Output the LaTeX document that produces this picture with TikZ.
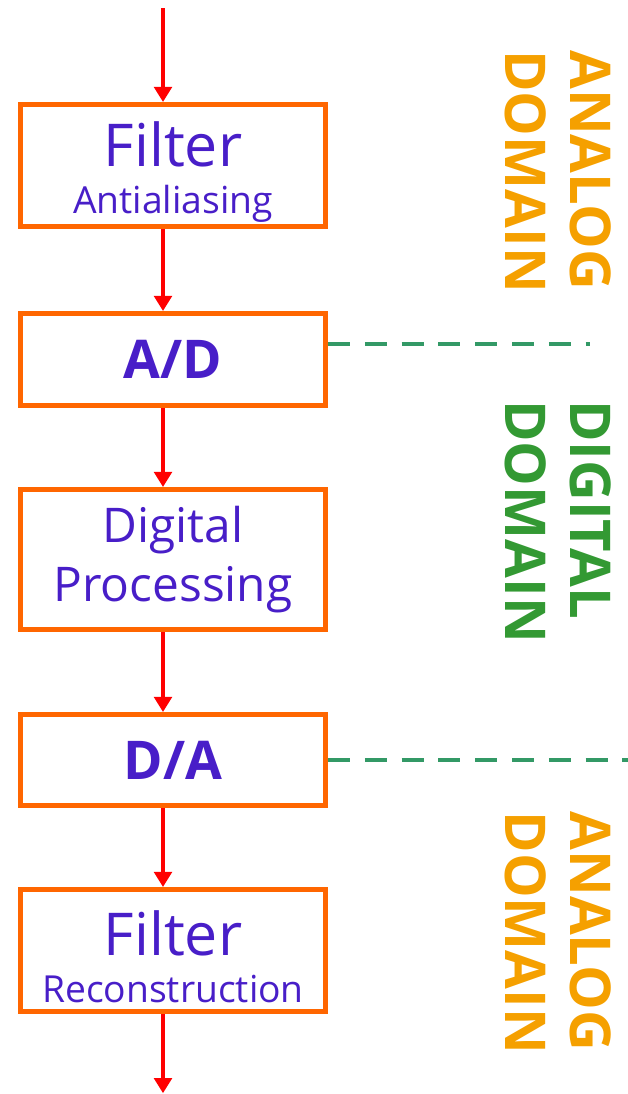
\documentclass[tikz,border=0pt]{standalone}
\usepackage{fontspec}
\setmainfont{Open Sans}
\usetikzlibrary{arrows.meta}

\definecolor{boxorange}{RGB}{255,102,0}
\definecolor{labelpurple}{RGB}{72,30,200}
\definecolor{analogorange}{RGB}{245,160,0}
\definecolor{digitalgreen}{RGB}{51,153,51}
\definecolor{dashgreen}{RGB}{51,153,102}

\tikzset{
  block/.style={draw=boxorange, line width=0.13cm, minimum width=7.62cm,
    text=labelpurple, align=center, inner sep=0pt},
  filterbox/.style={block, minimum height=3.045cm, font=\fontsize{26.5}{33}\selectfont},
  convbox/.style={block, font=\bfseries\fontsize{38}{40}\selectfont},
  flow/.style={red, line width=0.12cm, -{Triangle[width=0.44cm,length=0.38cm]}},
  border/.style={dashgreen, line width=0.12cm, dash pattern=on 0.55cm off 0.37cm},
  domaintag/.style={rotate=-90, anchor=west, align=left, inner sep=0pt,
    font=\bfseries\fontsize{40}{46}\selectfont}
}
\newcommand{\bigword}[1]{\rule{0pt}{41pt}{\fontsize{42}{33}\selectfont #1}}

\begin{document}
\begin{tikzpicture}
 \useasboundingbox (0,0) rectangle (15.7,-27.35);

 % signal chain
 \node[filterbox] (filterin) at (4.325,-4.1375) {\bigword{Filter}\\Antialiasing};
 \node[convbox, minimum height=2.295cm] (ad) at (4.325,-8.9875) {A/D};
 \node[block, minimum height=3.495cm, font=\fontsize{34}{42}\selectfont] (proc) at (4.325,-13.9875)
   {Digital\\Processing};
 \node[convbox, minimum height=2.27cm] (da) at (4.325,-19.0) {D/A};
 \node[filterbox] (filterout) at (4.325,-23.7625) {\bigword{Filter}\\Reconstruction};

 \coordinate (in) at (4.075,-0.2);
 \coordinate (out) at (4.075,-27.33);
 \draw[flow] (in) -- (in |- filterin.north);
 \foreach \a/\b in {filterin/ad, ad/proc, proc/da, da/filterout}
   \draw[flow] ([xshift=-0.25cm]\a.south) -- ([xshift=-0.25cm]\b.north);
 \draw[flow] ([xshift=-0.25cm]filterout.south) -- (out);

 % domain borders
 \coordinate (adend) at (14.75,-8.6);
 \coordinate (daend) at (15.7,-19);
 \draw[border] (ad.east |- adend) -- (adend);
 \draw[border] (da.east |- daend) -- (daend);

 \node[domaintag, text=analogorange] (analogtop) at (13.95,-1.25) {ANALOG\\DOMAIN};
 \node[domaintag, text=digitalgreen] (digital) at (13.95,-10.0) {DIGITAL\\DOMAIN};
 \node[domaintag, text=analogorange] (analogbot) at (13.95,-20.28) {ANALOG\\DOMAIN};
\end{tikzpicture}
\end{document}
